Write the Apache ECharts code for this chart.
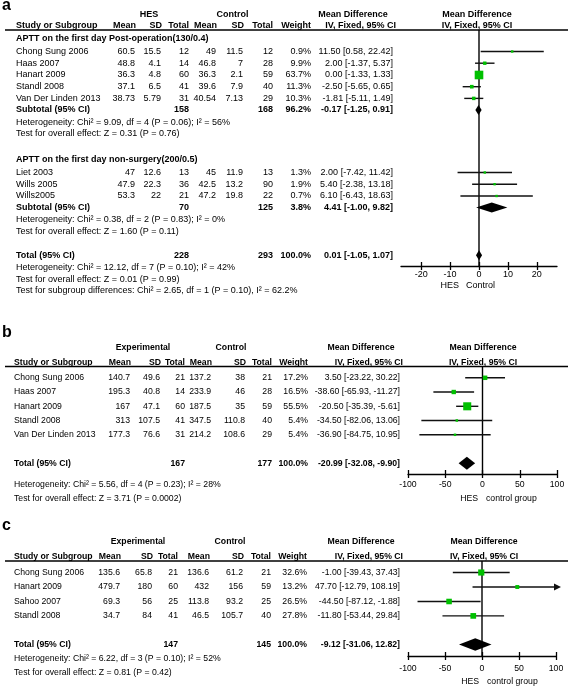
<!DOCTYPE html>
<html><head><meta charset="utf-8">
<script src="https://cdn.jsdelivr.net/npm/echarts@6/dist/echarts.min.js"></script>
<style>html,body{margin:0;padding:0;background:#fff}#chart{width:568px;height:687px}</style>
</head><body><div id="chart"></div>
<script>
// ================= DATA =================
// Panel a – subgroup 1
const aG1Title = 'APTT on the first day Post-operation(130/0.4)';
const aG1Study = ['Chong Sung 2006','Haas 2007','Hanart 2009','Standl 2008','Van Der Linden 2013'];
const aG1ExpMean = [60.5,48.8,36.3,37.1,38.73];
const aG1ExpSD = [15.5,4.1,4.8,6.5,5.79];
const aG1ExpN = [12,14,60,41,31];
const aG1CtlMean = [49,46.8,36.3,39.6,40.54];
const aG1CtlSD = [11.5,7,2.1,7.9,7.13];
const aG1CtlN = [12,28,59,40,29];
const aG1Weight = [0.9,9.9,63.7,11.3,10.3];
const aG1MD = [11.50,2.00,0.00,-2.50,-1.81];
const aG1Lo = [0.58,-1.37,-1.33,-5.65,-5.11];
const aG1Hi = [22.42,5.37,1.33,0.65,1.49];
const aG1Sub = [158,168,96.2,-0.17,-1.25,0.91]; // expN, ctlN, weight, md, lo, hi
const aG1Het = 'Heterogeneity: Chi² = 9.09, df = 4 (P = 0.06); I² = 56%';
const aG1Test = 'Test for overall effect: Z = 0.31 (P = 0.76)';
// Panel a – subgroup 2
const aG2Title = 'APTT on the first day non-surgery(200/0.5)';
const aG2Study = ['Liet 2003','Wills 2005','Wills2005'];
const aG2ExpMean = [47,47.9,53.3];
const aG2ExpSD = [12.6,22.3,22];
const aG2ExpN = [13,36,21];
const aG2CtlMean = [45,42.5,47.2];
const aG2CtlSD = [11.9,13.2,19.8];
const aG2CtlN = [13,90,22];
const aG2Weight = [1.3,1.9,0.7];
const aG2MD = [2.00,5.40,6.10];
const aG2Lo = [-7.42,-2.38,-6.43];
const aG2Hi = [11.42,13.18,18.63];
const aG2Sub = [70,125,3.8,4.41,-1.00,9.82];
const aG2Het = 'Heterogeneity: Chi² = 0.38, df = 2 (P = 0.83); I² = 0%';
const aG2Test = 'Test for overall effect: Z = 1.60 (P = 0.11)';
const aTotal = [228,293,100.0,0.01,-1.05,1.07];
const aTotalHet = 'Heterogeneity: Chi² = 12.12, df = 7 (P = 0.10); I² = 42%';
const aTotalTest = 'Test for overall effect: Z = 0.01 (P = 0.99)';
const aSubDiff = 'Test for subgroup differences: Chi² = 2.65, df = 1 (P = 0.10), I² = 62.2%';
const aTicks = [-20,-10,0,10,20];
const aFavours = ['HES','Control'];

// Panel b
const bStudy = ['Chong Sung 2006','Haas 2007','Hanart 2009','Standl 2008','Van Der Linden 2013'];
const bExpMean = [140.7,195.3,167,313,177.3];
const bExpSD = [49.6,40.8,47.1,107.5,76.6];
const bExpN = [21,14,60,41,31];
const bCtlMean = [137.2,233.9,187.5,347.5,214.2];
const bCtlSD = [38,46,35,110.8,108.6];
const bCtlN = [21,28,59,40,29];
const bWeight = [17.2,16.5,55.5,5.4,5.4];
const bMD = [3.50,-38.60,-20.50,-34.50,-36.90];
const bLo = [-23.22,-65.93,-35.39,-82.06,-84.75];
const bHi = [30.22,-11.27,-5.61,13.06,10.95];
const bTotal = [167,177,100.0,-20.99,-32.08,-9.90];
const bHet = 'Heterogeneity: Chi² = 5.56, df = 4 (P = 0.23); I² = 28%';
const bTest = 'Test for overall effect: Z = 3.71 (P = 0.0002)';
const bTicks = [-100,-50,0,50,100];
const bFavours = ['HES','control group'];

// Panel c
const cStudy = ['Chong Sung 2006','Hanart 2009','Sahoo 2007','Standl 2008'];
const cExpMean = [135.6,479.7,69.3,34.7];
const cExpSD = [65.8,180,56,84];
const cExpN = [21,60,25,41];
const cCtlMean = [136.6,432,113.8,46.5];
const cCtlSD = [61.2,156,93.2,105.7];
const cCtlN = [21,59,25,40];
const cWeight = [32.6,13.2,26.5,27.8];
const cMD = [-1.00,47.70,-44.50,-11.80];
const cLo = [-39.43,-12.79,-87.12,-53.44];
const cHi = [37.43,108.19,-1.88,29.84];
const cTotal = [147,145,100.0,-9.12,-31.06,12.82];
const cHet = 'Heterogeneity: Chi² = 6.22, df = 3 (P = 0.10); I² = 52%';
const cTest = 'Test for overall effect: Z = 0.81 (P = 0.42)';
const cTicks = [-100,-50,0,50,100];
const cFavours = ['HES','control group'];

// ================= LAYOUT =================
const FONT = '"Liberation Sans", Arial, Helvetica, sans-serif';
const colA = {name:16, mean:135, sd:161, n:189, cmean:216, csd:243, cn:273, w:311, md:393, fs:9};
const colB = {name:14, mean:130, sd:160, n:185, cmean:211, csd:245, cn:272, w:308, md:400, fs:8.7};
const colC = {name:14, mean:120, sd:152, n:178, cmean:209, csd:243, cn:271, w:307, md:400, fs:8.7};
const layA = {label:6, head1:15, head2:26, line:30, axis:266,
  g1Title:39, g1Rows:[51.5,63.2,75,86.7,98.4], g1Sub:110, g1Het:122.5, g1Test:134,
  g2Title:160, g2Rows:[172.5,184.2,196], g2Sub:207.5, g2Het:220, g2Test:232,
  total:255.3, het:267.3, test:279.3, sub:291, favY:286, favHES:459, favCtl:466,
  gridLeft:401, gridRight:557, xMin:-27, xMax:27, labelMargin:4, halfH:5};
const layB = {label:333, head1:348, head2:362.5, line:366.5, axis:474,
  rows:[377.8,392,406.3,420.5,434.8], total:463.3, het:485, test:498.3,
  favY:498.3, favHES:478, favCtl:486, gridLeft:408, gridRight:557, xMin:-100, xMax:100, labelMargin:6, halfH:6.5};
const layC = {label:526, head1:542, head2:556.5, line:561, axis:656,
  rows:[572.5,587,601.5,615.9], total:644.5, het:658.5, test:672.5,
  favY:682, favHES:479, favCtl:487, gridLeft:408, gridRight:556, xMin:-100, xMax:100, labelMargin:8, halfH:6.3};

// ================= HELPERS =================
const els = [];
function txt(x, y, s, align, bold, size) {
  els.push({type:'text', x:x, y:y, silent:true, z:10,
    style:{text:s, fill:'#000', font:(bold?'bold ':'')+(size||9)+'px '+FONT,
      textAlign:align||'left', textVerticalAlign:'middle'}});
}
function hline(x1, x2, y, w) {
  els.push({type:'line', silent:true, z:10, shape:{x1:x1, y1:y, x2:x2, y2:y}, style:{stroke:'#000', lineWidth:w||1.3}});
}
const ciStr = (m,l,h) => m.toFixed(2)+' ['+l.toFixed(2)+', '+h.toFixed(2)+']';
function studyRows(col, ys, st, em, es, en, cm, cs, cn, w, md, lo, hi) {
  const f = col.fs;
  st.forEach((s,i) => {
    const y = ys[i];
    txt(col.name, y, s, 'left', false, f);
    txt(col.mean, y, String(em[i]), 'right', false, f);
    txt(col.sd, y, String(es[i]), 'right', false, f);
    txt(col.n, y, String(en[i]), 'right', false, f);
    txt(col.cmean, y, String(cm[i]), 'right', false, f);
    txt(col.csd, y, String(cs[i]), 'right', false, f);
    txt(col.cn, y, String(cn[i]), 'right', false, f);
    txt(col.w, y, w[i].toFixed(1)+'%', 'right', false, f);
    txt(col.md, y, ciStr(md[i], lo[i], hi[i]), 'right', false, f);
  });
}
function totalRow(col, y, label, t) {
  const f = col.fs;
  txt(col.name, y, label, 'left', true, f);
  txt(col.n, y, String(t[0]), 'right', true, f);
  txt(col.cn, y, String(t[1]), 'right', true, f);
  txt(col.w, y, t[2].toFixed(1)+'%', 'right', true, f);
  txt(col.md, y, ciStr(t[3], t[4], t[5]), 'right', true, f);
}
function header(col, lay, letter, g1, g2, g1c, g2c, plotCenter, ivCenter) {
  const f = col.fs;
  txt(2, lay.label, letter, 'left', true, 16);
  txt(g1c, lay.head1, g1, 'center', true, f);
  txt(g2c, lay.head1, g2, 'center', true, f);
  txt(ivCenter - 7, lay.head1, 'Mean Difference', 'center', true, f);
  txt(plotCenter, lay.head1, 'Mean Difference', 'center', true, f);
  txt(col.name, lay.head2, 'Study or Subgroup', 'left', true, f);
  txt(col.mean + 1, lay.head2, 'Mean', 'right', true, f);
  txt(col.sd + 1, lay.head2, 'SD', 'right', true, f);
  txt(col.n, lay.head2, 'Total', 'right', true, f);
  txt(col.cmean + 1, lay.head2, 'Mean', 'right', true, f);
  txt(col.csd + 1, lay.head2, 'SD', 'right', true, f);
  txt(col.cn, lay.head2, 'Total', 'right', true, f);
  txt(col.w, lay.head2, 'Weight', 'right', true, f);
  txt(col.md + 3, lay.head2, 'IV, Fixed, 95% CI', 'right', true, f);
  txt(plotCenter, lay.head2, 'IV, Fixed, 95% CI', 'center', true, f);
  hline(5, 568, lay.line, 1.3);
}

// ================= TABLE TEXT =================
header(colA, layA, 'a', 'HES', 'Control', 149, 232.5, 477, 360);
txt(colA.name, layA.g1Title, aG1Title, 'left', true);
studyRows(colA, layA.g1Rows, aG1Study, aG1ExpMean, aG1ExpSD, aG1ExpN, aG1CtlMean, aG1CtlSD, aG1CtlN, aG1Weight, aG1MD, aG1Lo, aG1Hi);
totalRow(colA, layA.g1Sub, 'Subtotal (95% CI)', aG1Sub);
txt(colA.name, layA.g1Het, aG1Het); txt(colA.name, layA.g1Test, aG1Test);
txt(colA.name, layA.g2Title, aG2Title, 'left', true);
studyRows(colA, layA.g2Rows, aG2Study, aG2ExpMean, aG2ExpSD, aG2ExpN, aG2CtlMean, aG2CtlSD, aG2CtlN, aG2Weight, aG2MD, aG2Lo, aG2Hi);
totalRow(colA, layA.g2Sub, 'Subtotal (95% CI)', aG2Sub);
txt(colA.name, layA.g2Het, aG2Het); txt(colA.name, layA.g2Test, aG2Test);
totalRow(colA, layA.total, 'Total (95% CI)', aTotal);
txt(colA.name, layA.het, aTotalHet); txt(colA.name, layA.test, aTotalTest);
txt(colA.name, layA.sub, aSubDiff);
txt(layA.favHES, layA.favY, aFavours[0], 'right'); txt(layA.favCtl, layA.favY, aFavours[1], 'left');

header(colB, layB, 'b', 'Experimental', 'Control', 143, 231, 483, 368);
studyRows(colB, layB.rows, bStudy, bExpMean, bExpSD, bExpN, bCtlMean, bCtlSD, bCtlN, bWeight, bMD, bLo, bHi);
totalRow(colB, layB.total, 'Total (95% CI)', bTotal);
txt(colB.name, layB.het, bHet, 'left', false, colB.fs); txt(colB.name, layB.test, bTest, 'left', false, colB.fs);
txt(layB.favHES, layB.favY, bFavours[0], 'right', false, colB.fs); txt(layB.favCtl, layB.favY, bFavours[1], 'left', false, colB.fs);

header(colC, layC, 'c', 'Experimental', 'Control', 138, 230, 484, 368);
studyRows(colC, layC.rows, cStudy, cExpMean, cExpSD, cExpN, cCtlMean, cCtlSD, cCtlN, cWeight, cMD, cLo, cHi);
totalRow(colC, layC.total, 'Total (95% CI)', cTotal);
txt(colC.name, layC.het, cHet, 'left', false, colC.fs); txt(colC.name, layC.test, cTest, 'left', false, colC.fs);
txt(layC.favHES, layC.favY, cFavours[0], 'right', false, colC.fs); txt(layC.favCtl, layC.favY, cFavours[1], 'left', false, colC.fs);

// ================= FOREST PLOTS =================
const GREEN = '#00c000';
function ciRender(params, api) {
  const md = api.value(0), lo = api.value(1), hi = api.value(2), y = api.value(3), w = api.value(4);
  const cs = params.coordSys;
  const pl = api.coord([lo, y]), ph = api.coord([hi, y]), pm = api.coord([md, y]);
  const xL = Math.max(pl[0], cs.x), xR = Math.min(ph[0], cs.x + cs.width + 1);
  const ch = [{type:'line', shape:{x1:xL, y1:pm[1], x2:xR, y2:pm[1]}, style:{stroke:'#111', lineWidth:1.4}}];
  if (ph[0] > cs.x + cs.width) ch.push({type:'polygon', shape:{points:[[xR+4,pm[1]],[xR-3,pm[1]-3.5],[xR-3,pm[1]+3.5]]}, style:{fill:'#111'}});
  if (pl[0] < cs.x) ch.push({type:'polygon', shape:{points:[[xL-4,pm[1]],[xL+3,pm[1]-3.5],[xL+3,pm[1]+3.5]]}, style:{fill:'#111'}});
  const s = Math.max(2.4, 1.08 * Math.sqrt(w));
  ch.push({type:'rect', shape:{x:pm[0]-s/2, y:pm[1]-s/2, width:s, height:s}, style:{fill:GREEN}});
  return {type:'group', children:ch};
}
function diamondRender(halfH) {
  return function (params, api) {
    const y = api.value(3);
    const pm = api.coord([api.value(0), y]), pl = api.coord([api.value(1), y]), ph = api.coord([api.value(2), y]);
    return {type:'polygon', shape:{points:[[pl[0],pm[1]],[pm[0],pm[1]-halfH],[ph[0],pm[1]],[pm[0],pm[1]+halfH]]}, style:{fill:'#000'}};
  };
}
const zip = (md, lo, hi, ys, w) => md.map((m,i) => [m, lo[i], hi[i], ys[i], w[i]]);

const panels = [
  {lay:layA, ticks:aTicks, fs:9,
   ci: zip(aG1MD, aG1Lo, aG1Hi, layA.g1Rows, aG1Weight).concat(zip(aG2MD, aG2Lo, aG2Hi, layA.g2Rows, aG2Weight)),
   dia: [[aG1Sub[3], aG1Sub[4], aG1Sub[5], layA.g1Sub], [aG2Sub[3], aG2Sub[4], aG2Sub[5], layA.g2Sub], [aTotal[3], aTotal[4], aTotal[5], layA.total]]},
  {lay:layB, ticks:bTicks, fs:8.7,
   ci: zip(bMD, bLo, bHi, layB.rows, bWeight),
   dia: [[bTotal[3], bTotal[4], bTotal[5], layB.total]]},
  {lay:layC, ticks:cTicks, fs:8.7,
   ci: zip(cMD, cLo, cHi, layC.rows, cWeight),
   dia: [[cTotal[3], cTotal[4], cTotal[5], layC.total]]}
];

const grid = [], xAxis = [], yAxis = [], series = [];
panels.forEach((p, gi) => {
  const L = p.lay;
  grid.push({left:L.gridLeft, width:L.gridRight - L.gridLeft, top:L.line, height:L.axis - L.line});
  const base = {gridIndex:gi, type:'value', min:L.xMin, max:L.xMax, position:'bottom', splitLine:{show:false}};
  xAxis.push(Object.assign({}, base, {
    axisLine:{show:true, onZero:false, lineStyle:{color:'#000', width:1.3}},
    axisTick:{show:true, inside:false, length:4, customValues:p.ticks, lineStyle:{color:'#000', width:1.3}},
    axisLabel:{show:true, customValues:p.ticks, margin:L.labelMargin, color:'#000', fontSize:p.fs, fontFamily:FONT}
  }));
  xAxis.push(Object.assign({}, base, {
    axisLine:{show:false, onZero:false},
    axisTick:{show:true, inside:true, length:4, customValues:p.ticks, lineStyle:{color:'#000', width:1.3}},
    axisLabel:{show:false}
  }));
  yAxis.push({gridIndex:gi, type:'value', min:L.line, max:L.axis, inverse:true, show:false});
  series.push({type:'line', xAxisIndex:gi*2, yAxisIndex:gi, data:[[0, L.line], [0, L.axis]], symbol:'none', silent:true, z:1,
    lineStyle:{color:'#000', width:1.4}});
  series.push({type:'custom', xAxisIndex:gi*2, yAxisIndex:gi, data:p.ci, renderItem:ciRender, silent:true, z:3,
    encode:{x:[0,1,2], y:3}});
  series.push({type:'custom', xAxisIndex:gi*2, yAxisIndex:gi, data:p.dia, renderItem:diamondRender(L.halfH), silent:true, z:4,
    encode:{x:[0,1,2], y:3}});
});

const chart = echarts.init(document.getElementById('chart'), null, {renderer:'canvas'});
chart.setOption({animation:false, backgroundColor:'#fff', grid, xAxis, yAxis, series, graphic:{elements:els}});
</script></body></html>
